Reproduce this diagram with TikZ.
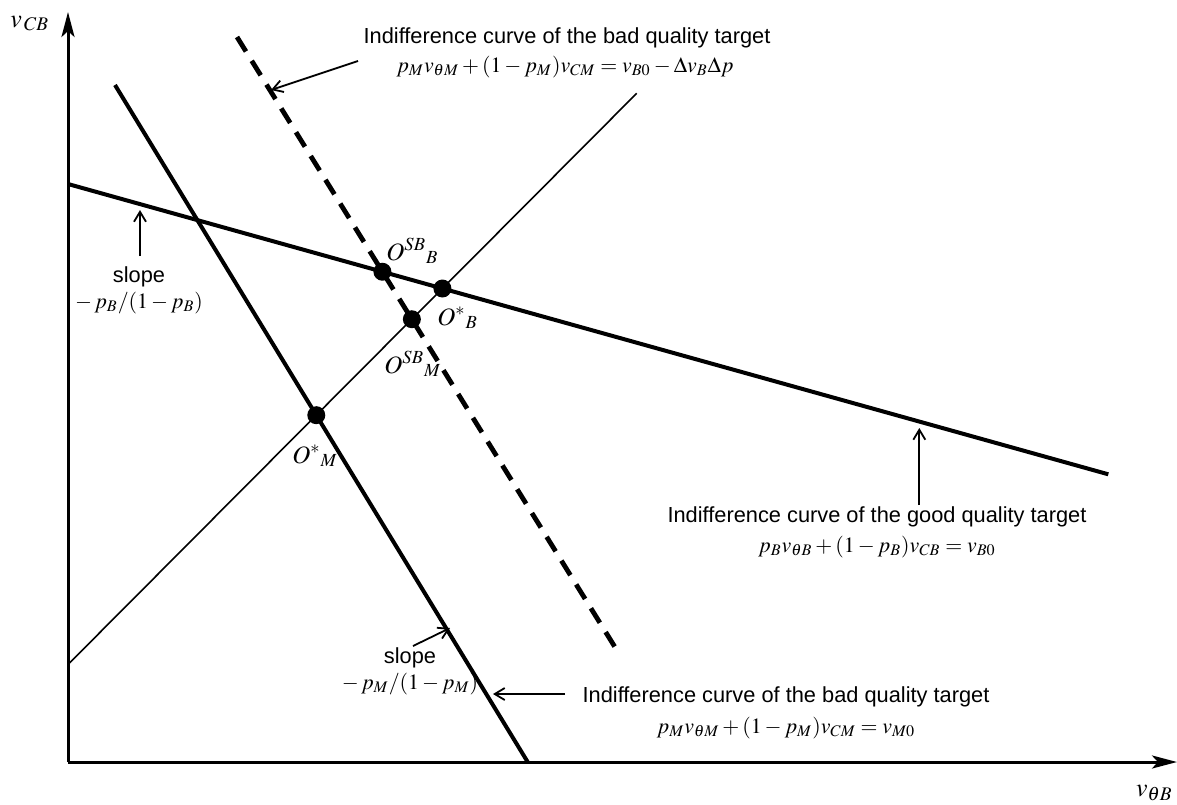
\documentclass[tikz,border=0pt]{standalone}
\usepackage{mathptmx}
\usepackage[no-math]{fontspec}
\setmainfont{Liberation Sans}
\usetikzlibrary{arrows.meta}
\begin{document}
\begin{tikzpicture}[x=0.5pt,y=-0.5pt,
  lbl/.style={font=\fontsize{10.9}{13}\selectfont, inner sep=0pt},
  ptlbl/.style={font=\fontsize{12.5}{15}\selectfont, inner sep=0pt},
  axlbl/.style={font=\fontsize{13}{15}\selectfont, inner sep=0pt},
  axisl/.style={line width=1.5pt,-{Stealth[length=12.5pt,width=6.5pt,inset=3pt]}},
  heavy/.style={line width=2pt},
  thinl/.style={line width=0.8pt},
  dashl/.style={line width=2.4pt, dash pattern=on 8.5pt off 5.5pt},
  ann/.style={line width=0.9pt,-{Straight Barb[length=5pt,width=6pt]}},
  dot/.style={circle,fill=black,inner sep=0pt,minimum size=9pt}
]
\clip (0,0) rectangle (1177,804);
\fill[white] (0,0) rectangle (1177,804);

% axes
\coordinate (O) at (68,762);
\coordinate (Ytip) at (68,12);
\coordinate (Xtip) at (1177,762);
\draw[axisl] (O) -- (Ytip);
\draw[axisl] (O) -- (Xtip);
\node[axlbl, anchor=base west] (ylab) at (10,27) {$v_{\,CB}$};
\node[axlbl, anchor=base east] (xlab) at (1173,796) {$v_{\theta B}$};

% lines
\coordinate (M1) at (115,85);
\coordinate (M2) at (527.7,762);
\coordinate (D1) at (237,37);
\coordinate (D2) at (618,652);
\coordinate (T1) at (68,664.5);
\coordinate (T2) at (636.7,93.3);
\coordinate (B1) at (68,184);
\coordinate (B2) at (1108.3,474.3);

\draw[heavy] (M1) -- (M2);
\draw[dashl] (D1) -- (D2);
\draw[thinl] (T1) -- (T2);
\draw[heavy] (B1) -- (B2);

% points
\node[dot] (OSBB) at (intersection of D1--D2 and B1--B2) {};
\node[dot] (OSB) at (intersection of T1--T2 and B1--B2) {};
\node[dot] (OSBM) at (intersection of D1--D2 and T1--T2) {};
\node[dot] (OSM) at (intersection of M1--M2 and T1--T2) {};

\node[ptlbl, anchor=base west] (lOSBB) at (386,260) {$O^{SB}{}_{B}$};
\node[ptlbl, anchor=base west] (lOSB) at (437,325) {$O^{*}{}_{B}$};
\node[ptlbl, anchor=base west] (lOSBM) at (384,373) {$O^{SB}{}_{M}$};
\node[ptlbl, anchor=base west] (lOSM) at (292,463) {$O^{*}{}_{M}$};

% top label (dashed line)
\node[lbl, anchor=base] (t1) at (567,43) {Indifference curve of the bad quality target};
\node[lbl, anchor=base] (t2) at (565,72) {$p_M v_{\theta M} + (1-p_M)v_{CM} = v_{B0} - \Delta v_B\Delta p$};
\coordinate (a1s) at (358,61);
\coordinate (a1e) at (271,90);
\draw[ann] (a1s) -- (a1e);

% upper-left slope label
\node[lbl, anchor=base] (s1) at (139,282) {slope};
\node[lbl, anchor=base] (s1f) at (139,308) {$-\,p_B/(1-p_B)$};
\coordinate (a2s) at (140,256);
\coordinate (a2e) at (140,210);
\draw[ann] (a2s) -- (a2e);

% good quality label
\node[lbl, anchor=base] (g1) at (877,522) {Indifference curve of the good quality target};
\node[lbl, anchor=base] (g2) at (877,552) {$p_B v_{\theta B} + (1-p_B)v_{CB} = v_{B0}$};
\coordinate (a3s) at (919.3,505);
\coordinate (a3e) at (919.3,428);
\draw[ann] (a3s) -- (a3e);

% lower slope label
\node[lbl, anchor=base] (s2) at (410,663) {slope};
\node[lbl, anchor=base] (s2f) at (410,689) {$-\,p_M/(1-p_M)$};
\coordinate (a4s) at (413,646);
\coordinate (a4e) at (450,628);
\draw[ann] (a4s) -- (a4e);

% bottom bad quality label
\node[lbl, anchor=base] (b1) at (786,702) {Indifference curve of the bad quality target};
\node[lbl, anchor=base] (b2) at (786,733) {$p_M v_{\theta M} + (1-p_M)v_{CM} = v_{M0}$};
\coordinate (a5s) at (565,694);
\coordinate (a5e) at (493,694);
\draw[ann] (a5s) -- (a5e);
\end{tikzpicture}
\end{document}
